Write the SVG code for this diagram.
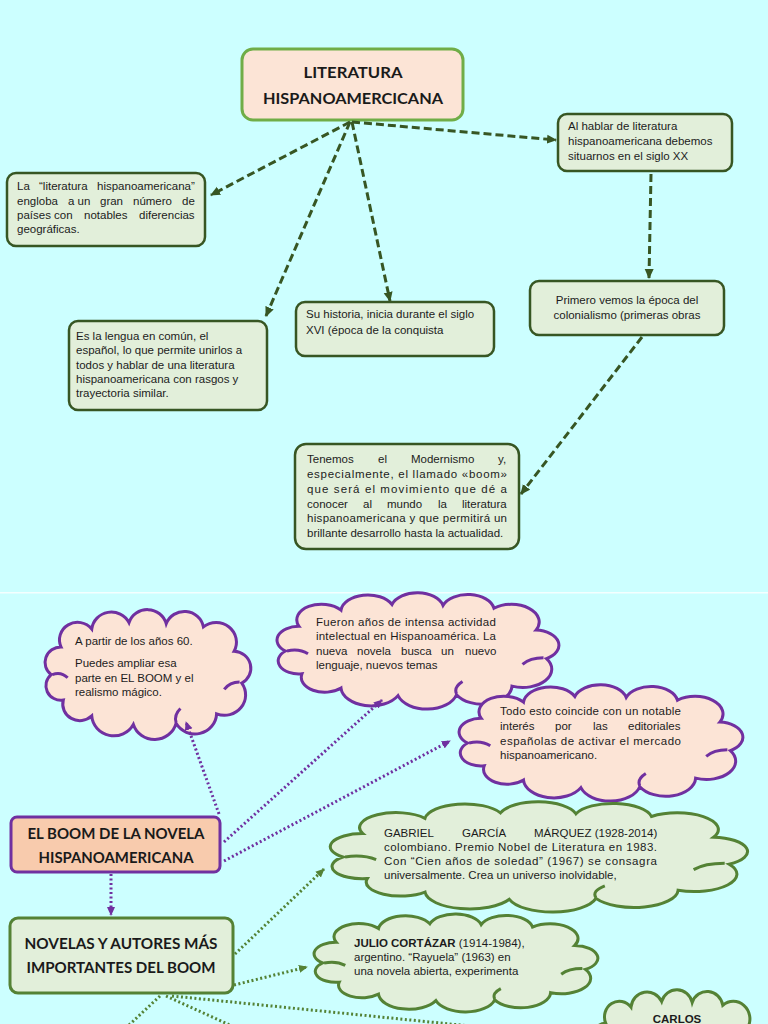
<svg xmlns="http://www.w3.org/2000/svg" width="768" height="1024" viewBox="0 0 768 1024">
<style>
.t{font-family:"Liberation Sans",Arial,sans-serif;font-size:11.5px;fill:#1c1c1c}
.h{font-family:Lato,"Liberation Sans",sans-serif;font-weight:bold;fill:#1a1a1a;text-anchor:middle}
.tb{fill:#e2efda;stroke:#375623;stroke-width:2.5}
.dash{fill:none;stroke:#375623;stroke-width:3;stroke-dasharray:8 4}
.pdot{fill:none;stroke:#7030a0;stroke-width:3;stroke-dasharray:2 2.5}
.gdot{fill:none;stroke:#548235;stroke-width:3;stroke-dasharray:2 2.5}
.pc{fill:#fce4d6;stroke:#7030a0;stroke-width:3}
.gc{fill:#e2efda;stroke:#548235;stroke-width:3}
</style>
<defs>
<g id="cloud">
<path vector-effect="non-scaling-stroke" d="M13,60 A14.5,14.5 0 0 1 22,34 A16.5,16.5 0 0 1 50,17 A18,18 0 0 1 84,11 A17.7,17.7 0 0 1 118,12 A17.7,17.7 0 0 1 152,15 A18.5,18.5 0 0 1 180,38 A16,16 0 0 1 187,68 A19.3,19.3 0 0 1 164,97 A19.8,19.8 0 0 1 127,106 A20.3,20.3 0 0 1 88,107 A20.2,20.2 0 0 1 50,99 A15.6,15.6 0 0 1 24,84 A13.7,13.7 0 0 1 13,60 Z"/>
<path vector-effect="non-scaling-stroke" fill="none" d="M14,60 Q22,57 28,63 M185,67 Q176,67 171,74 M127,105 Q125,98 131,92"/>
</g>
<marker id="ad" viewBox="0 0 10 10" refX="9" refY="5" markerWidth="10" markerHeight="10" markerUnits="userSpaceOnUse" orient="auto"><path d="M0,0.5 L10,5 L0,9.5 Z" fill="#375623"/></marker>
<marker id="ap" viewBox="0 0 10 10" refX="9" refY="5" markerWidth="9" markerHeight="9" markerUnits="userSpaceOnUse" orient="auto"><path d="M0,0.5 L10,5 L0,9.5 Z" fill="#7030a0"/></marker>
<marker id="ag" viewBox="0 0 10 10" refX="9" refY="5" markerWidth="9" markerHeight="9" markerUnits="userSpaceOnUse" orient="auto"><path d="M0,0.5 L10,5 L0,9.5 Z" fill="#548235"/></marker>
</defs>
<rect x="0" y="0" width="768" height="1024" fill="#ccffff"/>
<rect x="0" y="592" width="768" height="1.5" fill="#f4ffff"/>

<g id="title">
<rect x="242" y="49" width="221" height="71" rx="11" fill="#fce4d6" stroke="#70ad47" stroke-width="3"/>
<text class="h" x="353" y="78" font-size="15" textLength="99" lengthAdjust="spacingAndGlyphs">LITERATURA</text>
<text class="h" x="353" y="104" font-size="15" textLength="180" lengthAdjust="spacingAndGlyphs">HISPANOAMERCICANA</text>
</g>

<g id="n-hablar">
<rect class="tb" x="558" y="114" width="174" height="57" rx="9"/>
<text class="t" x="568" y="130">Al hablar de literatura</text>
<text class="t" x="568" y="145">hispanoamericana debemos</text>
<text class="t" x="568" y="160">situarnos en el siglo XX</text>
</g>

<g id="n-engloba">
<rect class="tb" x="7" y="173" width="198" height="73" rx="9"/>
<text class="t" y="190"><tspan x="17">La</tspan><tspan x="39">“literatura</tspan><tspan x="97">hispanoamericana”</tspan></text>
<text class="t" y="205"><tspan x="17">engloba</tspan><tspan x="68">a un</tspan><tspan x="100">gran</tspan><tspan x="133">número</tspan><tspan x="182">de</tspan></text>
<text class="t" y="219"><tspan x="17">países con</tspan><tspan x="84">notables</tspan><tspan x="139">diferencias</tspan></text>
<text class="t" x="17" y="233">geográficas.</text>
</g>

<g id="n-lengua">
<rect class="tb" x="69" y="321" width="198" height="89" rx="9"/>
<text class="t" x="76" y="340">Es la lengua en común, el</text>
<text class="t" x="76" y="354">español, lo que permite unirlos a</text>
<text class="t" x="76" y="369">todos y hablar de una literatura</text>
<text class="t" x="76" y="383">hispanoamericana con rasgos y</text>
<text class="t" x="76" y="397">trayectoria similar.</text>
</g>

<g id="n-historia">
<rect class="tb" x="296" y="302" width="198" height="54" rx="9"/>
<text class="t" x="306" y="318">Su historia, inicia durante el siglo</text>
<text class="t" x="306" y="334">XVI (época de la conquista</text>
</g>

<g id="n-primero">
<rect class="tb" x="530" y="281" width="194" height="54" rx="9"/>
<text class="t" x="627" y="304" text-anchor="middle">Primero vemos la época del</text>
<text class="t" x="627" y="319" text-anchor="middle">colonialismo (primeras obras</text>
</g>

<g id="n-tenemos">
<rect class="tb" x="295" y="444" width="224" height="105" rx="11"/>
<text class="t" y="463"><tspan x="307">Tenemos</tspan><tspan x="378">el</tspan><tspan x="411">Modernismo</tspan><tspan x="498">y,</tspan></text>
<text class="t" x="307" y="478" textLength="200" lengthAdjust="spacing">especialmente, el llamado «boom»</text>
<text class="t" x="307" y="493" textLength="200" lengthAdjust="spacing">que será el movimiento que dé a</text>
<text class="t" y="508"><tspan x="307">conocer</tspan><tspan x="363">al</tspan><tspan x="387">mundo</tspan><tspan x="438">la</tspan><tspan x="462">literatura</tspan></text>
<text class="t" x="307" y="522" textLength="200" lengthAdjust="spacing">hispanoamericana y que permitirá un</text>
<text class="t" x="307" y="537">brillante desarrollo hasta la actualidad.</text>
</g>

<g id="c-anos60">
<use href="#cloud" class="pc" transform="translate(37,611) scale(1.095,1.06)"/>
<text class="t" x="75" y="645">A partir de los años 60.</text>
<text class="t" x="75" y="667">Puedes ampliar esa</text>
<text class="t" x="75" y="682">parte en EL BOOM y el</text>
<text class="t" x="75" y="696">realismo mágico.</text>
</g>

<g id="c-fueron">
<use href="#cloud" class="pc" transform="translate(266,594) scale(1.5,0.95)"/>
<text class="t" x="316" y="626" textLength="180" lengthAdjust="spacing">Fueron años de intensa actividad</text>
<text class="t" x="316" y="640" textLength="180" lengthAdjust="spacing">intelectual en Hispanoamérica. La</text>
<text class="t" y="655"><tspan x="316">nueva</tspan><tspan x="357">novela</tspan><tspan x="401">busca</tspan><tspan x="441">un</tspan><tspan x="465">nuevo</tspan></text>
<text class="t" x="316" y="669">lenguaje, nuevos temas</text>
</g>

<g id="c-todo">
<use href="#cloud" class="pc" transform="translate(448,686) scale(1.51,0.95)"/>
<text class="t" x="500" y="715" textLength="181" lengthAdjust="spacing">Todo esto coincide con un notable</text>
<text class="t" y="730"><tspan x="500">interés</tspan><tspan x="555">por</tspan><tspan x="593">las</tspan><tspan x="628">editoriales</tspan></text>
<text class="t" x="500" y="745" textLength="181" lengthAdjust="spacing">españolas de activar el mercado</text>
<text class="t" x="500" y="759">hispanoamericano.</text>
</g>

<g id="n-boom">
<rect x="11" y="817" width="209" height="55" rx="6" fill="#f8cbad" stroke="#7030a0" stroke-width="3"/>
<text class="h" x="116" y="839" font-size="15" textLength="177" lengthAdjust="spacingAndGlyphs">EL BOOM DE LA NOVELA</text>
<text class="h" x="116" y="863" font-size="15" textLength="155" lengthAdjust="spacingAndGlyphs">HISPANOAMERICANA</text>
</g>

<g id="n-novelas">
<rect x="10" y="918" width="223" height="75" rx="8" fill="#e2efda" stroke="#548235" stroke-width="3"/>
<text class="h" x="121" y="949" font-size="16" textLength="193" lengthAdjust="spacingAndGlyphs">NOVELAS Y AUTORES MÁS</text>
<text class="h" x="121" y="973" font-size="16" textLength="189" lengthAdjust="spacingAndGlyphs">IMPORTANTES DEL BOOM</text>
</g>

<g id="c-garcia">
<use href="#cloud" class="gc" transform="translate(314,803) scale(2.22,0.9)"/>
<text class="t" y="837"><tspan x="384">GABRIEL</tspan><tspan x="462">GARCÍA</tspan><tspan x="534">MÁRQUEZ (1928-2014)</tspan></text>
<text class="t" x="384" y="851" textLength="273" lengthAdjust="spacing">colombiano. Premio Nobel de Literatura en 1983.</text>
<text class="t" x="384" y="865" textLength="273" lengthAdjust="spacing">Con “Cien años de soledad” (1967) se consagra</text>
<text class="t" x="384" y="879">universalmente. Crea un universo inolvidable,</text>
</g>

<g id="c-cortazar">
<use href="#cloud" class="gc" transform="translate(303,915) scale(1.51,0.8)"/>
<text class="t" x="354" y="947"><tspan font-weight="bold">JULIO CORTÁZAR</tspan> (1914-1984),</text>
<text class="t" x="354" y="961">argentino. “Rayuela” (1963) en</text>
<text class="t" x="354" y="975">una novela abierta, experimenta</text>
</g>

<g id="c-carlos">
<use href="#cloud" class="gc" transform="translate(586,991) scale(0.9,0.95)"/>
<text class="t" x="677" y="1023" font-weight="bold" text-anchor="middle">CARLOS</text>
</g>

<g id="connectors">
<line class="dash" x1="350" y1="122" x2="211" y2="195" marker-end="url(#ad)"/>
<line class="dash" x1="350" y1="122" x2="266" y2="316" marker-end="url(#ad)"/>
<line class="dash" x1="352" y1="122" x2="390" y2="301" marker-end="url(#ad)"/>
<line class="dash" x1="352" y1="122" x2="556" y2="140" marker-end="url(#ad)"/>
<line class="dash" x1="651" y1="174" x2="649" y2="278" marker-end="url(#ad)"/>
<line class="dash" x1="642" y1="337" x2="521" y2="494" marker-end="url(#ad)"/>
<line class="pdot" x1="219" y1="814" x2="186" y2="722" marker-end="url(#ap)"/>
<line class="pdot" x1="224" y1="842" x2="382" y2="700" marker-end="url(#ap)"/>
<line class="pdot" x1="224" y1="861" x2="450" y2="741" marker-end="url(#ap)"/>
<line class="pdot" x1="111" y1="874" x2="111" y2="915" marker-end="url(#ap)"/>
<line class="gdot" x1="235" y1="954" x2="324" y2="869" marker-end="url(#ag)"/>
<line class="gdot" x1="234" y1="985" x2="307" y2="967" marker-end="url(#ag)"/>
<line class="gdot" x1="160" y1="996" x2="128" y2="1026"/>
<line class="gdot" x1="166" y1="996" x2="232" y2="1026"/>
<line class="gdot" x1="172" y1="996" x2="470" y2="1026"/>
</g>
</svg>
